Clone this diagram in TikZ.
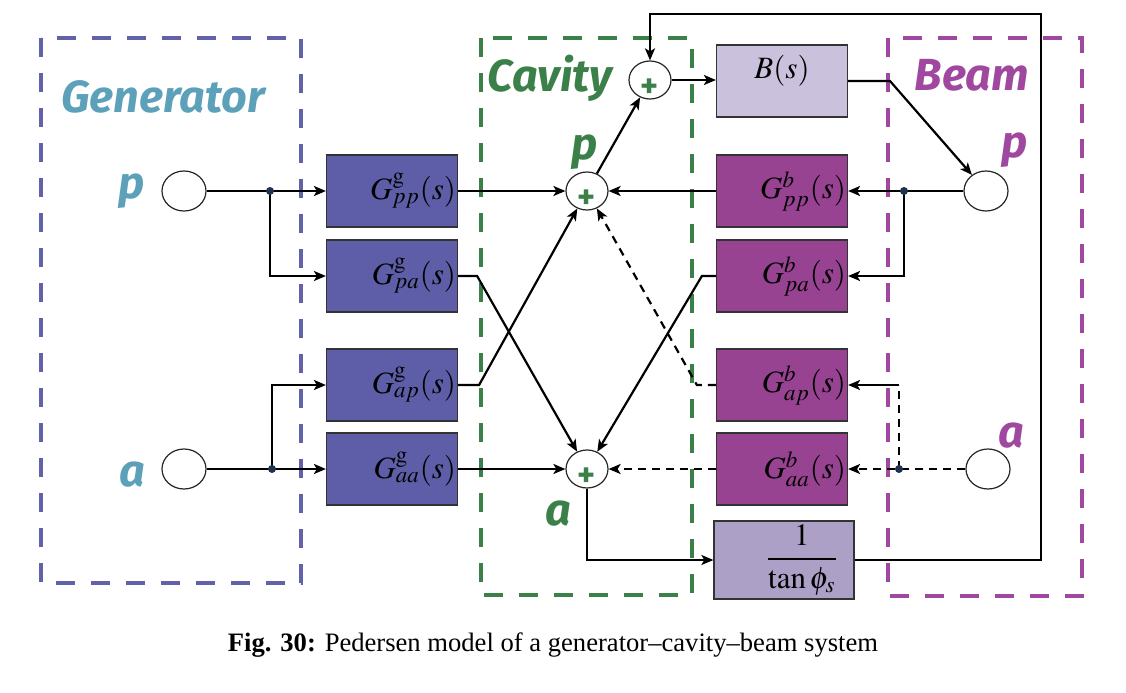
\documentclass[tikz,border=0pt]{standalone}
\usepackage{mathptmx}
\usepackage{fontspec}
\setmainfont{Liberation Serif}
\newfontfamily\lblfont{Fira Sans}
\usetikzlibrary{positioning,shapes.geometric,arrows.meta}

\definecolor{genblue}{RGB}{98,98,170}
\definecolor{genlbl}{RGB}{92,160,185}
\definecolor{cavgreen}{RGB}{58,128,72}
\definecolor{beampurple}{RGB}{160,72,160}
\definecolor{gblock}{RGB}{94,94,168}
\definecolor{bblock}{RGB}{152,66,146}
\definecolor{bsfill}{RGB}{202,194,220}
\definecolor{tanfill}{RGB}{172,160,198}
\definecolor{dotfill}{RGB}{30,50,80}

\tikzset{
	frame/.style={line width=2pt, dash pattern=on 9.5pt off 8pt},
	grouplbl/.style={font=\lblfont\bfseries\itshape\fontsize{22.5}{24}\selectfont, inner sep=0pt},
	block/.style={draw=black!80, line width=0.6pt, minimum width=65.5pt, minimum height=36pt,
		inner sep=0pt, text width=64pt, align=right, font=\fontsize{15.5}{17}\selectfont},
	gblk/.style={block, fill=gblock},
	bblk/.style={block, fill=bblock},
	sumnode/.style={ellipse, draw=black!85, line width=0.6pt, fill=white,
		minimum width=21pt, minimum height=19pt, inner sep=0pt},
	port/.style={ellipse, draw=black!85, line width=0.6pt, fill=white,
		minimum width=22pt, minimum height=20pt, inner sep=0pt},
	plussign/.style={font=\lblfont\bfseries\fontsize{17}{17}\selectfont, text=cavgreen, inner sep=0pt},
	conn/.style={line width=1.1pt, -{Stealth[length=6pt,width=5pt,inset=1.5pt]}},
	dashconn/.style={conn, dash pattern=on 4pt off 3pt},
	dashline/.style={line width=1.1pt, dash pattern=on 4pt off 3pt},
	jdot/.style={fill=dotfill}
}

\begin{document}
\begin{tikzpicture}[x=0.5pt, y=-0.5pt]
	\useasboundingbox (0,0) rectangle (1126,692);

	% subsystem frames
	\draw[frame, draw=genblue] (41,38) rectangle (301,583);
	\draw[frame, draw=cavgreen] (481,38) rectangle (692,595);
	\draw[frame, draw=beampurple] (888,38) rectangle (1082,596);

	\node[grouplbl, text=genlbl] (genlbl) at (163,97) {Generator};
	\node[grouplbl, text=cavgreen] (cavlbl) at (550,78) {Cavity};
	\node[grouplbl, text=beampurple] (beamlbl) at (972,75) {Beam};

	% ports
	\node[port] (gp) at (184,191) {};
	\node[port] (ga) at (184,469) {};
	\node[port] (bp) at (986,191) {};
	\node[port] (ba) at (988,469) {};

	\node[grouplbl, text=genlbl, left=8pt of gp] (gplbl) {p};
	\node[grouplbl, text=genlbl, left=8pt of ga, yshift=-3pt] (galbl) {a};
	\node[grouplbl, text=beampurple] (bplbl) at (1015,150) {p};
	\node[grouplbl, text=beampurple] (balbl) at (1011,436) {a};

	% summing points
	\node[sumnode] (sumB) at (650,80) {};
	\node[sumnode] (sumP) at (587,191) {};
	\node[sumnode] (sumA) at (587,469) {};
	\node[plussign] (plusB) at ([yshift=-4pt]sumB.center) {+};
	\node[plussign] (plusP) at ([yshift=-4pt]sumP.center) {+};
	\node[plussign] (plusA) at ([yshift=-4pt]sumA.center) {+};

	\node[grouplbl, text=cavgreen] (sumPlbl) at (585,152) {p};
	\node[grouplbl, text=cavgreen] (sumAlbl) at (558,514) {a};

	% transfer blocks
	\node[gblk] (Ggpp) at (392,191) {$G^{\mathrm{g}}_{pp}(s)$};
	\node[gblk] (Ggpa) at (392,276) {$G^{\mathrm{g}}_{pa}(s)$};
	\node[gblk] (Ggap) at (392,385) {$G^{\mathrm{g}}_{ap}(s)$};
	\node[gblk] (Ggaa) at (392,469) {$G^{\mathrm{g}}_{aa}(s)$};

	\node[bblk] (Gbpp) at (782,191) {$G^{b}_{pp}(s)$};
	\node[bblk] (Gbpa) at (782,276) {$G^{b}_{pa}(s)$};
	\node[bblk] (Gbap) at (782,385) {$G^{b}_{ap}(s)$};
	\node[bblk] (Gbaa) at (782,469) {$G^{b}_{aa}(s)$};

	\node[block, fill=bsfill, align=center, text height=11pt, text depth=14pt] (Bs) at (782,81) {$B(s)$};
	\node[block, fill=tanfill, minimum width=70pt, minimum height=39pt, text width=54pt] (tanbox) at (784,560)
		{$\displaystyle\frac{1}{\tan\phi_s}$};

	% branch points
	\coordinate (gdotp) at (270,191);
	\coordinate (gdota) at (272,469);
	\coordinate (bdotp) at (904,191);
	\coordinate (bdota) at (899,469);
	\coordinate (bturn) at (890,81);
	\coordinate (fbR) at (1041,14);

	% generator side
	\draw[conn] (gp.east) -- (Ggpp.west);
	\draw[conn] (gdotp) |- (Ggpa.west);
	\draw[conn] (ga.east) -- (Ggaa.west);
	\draw[conn] (gdota) |- (Ggap.west);

	% into the cavity
	\draw[conn] (Ggpp.east) -- (sumP.west);
	\draw[conn] (Gbpp.west) -- (sumP.east);
	\draw[conn] (Ggpa.east) -- ++(19,0) -- (sumA);
	\draw[conn] (Ggap.east) -- ++(21,0) -- (sumP);
	\draw[conn] (Gbpa.west) -- ++(-14,0) -- (sumA);
	\draw[dashconn] (Gbap.west) -- ++(-19,0) -- (sumP);
	\draw[conn] (Ggaa.east) -- (sumA.west);
	\draw[dashconn] (Gbaa.west) -- (sumA.east);
	\draw[conn] (sumP) -- (sumB);
	\draw[conn] (sumB.east) -- (sumB.east -| Bs.west);

	% beam side
	\draw[conn] (Bs.east) -- (bturn) -- (bp);
	\draw[conn] (bp.west) -- (Gbpp.east);
	\draw[conn] (bdotp) |- (Gbpa.east);
	\draw[dashconn] (ba.west) -- (Gbaa.east);
	\draw[dashline] (bdota) -- (bdota |- Gbap.east) coordinate (aturn);
	\draw[conn] (aturn) -- (Gbap.east);

	% feedback loop
	\draw[conn] (sumA.south) |- (tanbox.west);
	\draw[conn] (tanbox.east) -| (fbR) -| (sumB.north);

	\foreach \d in {gdotp,gdota,bdotp,bdota}
		\fill[jdot] (\d) circle (2pt);

	\node[font=\fontsize{13.3}{15}\selectfont] (caption) at (553,645)
		{\textbf{Fig. 30:} Pedersen model of a generator--cavity--beam system};
\end{tikzpicture}
\end{document}
